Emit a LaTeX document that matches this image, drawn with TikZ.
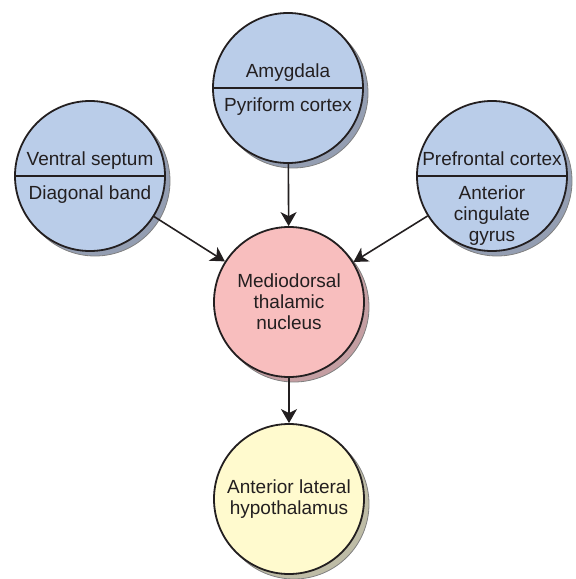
\documentclass[tikz,border=0pt]{standalone}
\usepackage{fontspec}
\setmainfont{Liberation Sans}
\usetikzlibrary{arrows.meta}
\definecolor{ink}{RGB}{35,31,32}
\definecolor{fillblue}{RGB}{186,205,233}
\definecolor{shadeblue}{RGB}{148,158,178}
\definecolor{fillpink}{RGB}{248,190,190}
\definecolor{shadepink}{RGB}{196,158,162}
\definecolor{fillyellow}{RGB}{255,250,206}
\definecolor{shadeyellow}{RGB}{190,188,166}
\begin{document}
\begin{tikzpicture}[x=1pt,y=-1pt,
        region/.style={circle, draw=ink, line width=1.8pt, minimum size=150pt, inner sep=0pt},
        areatext/.style={text=ink, font=\fontsize{19}{21}\selectfont, align=center, inner sep=0pt},
        proj/.style={draw=ink, line width=1.6pt, -{Stealth[length=14pt,width=16pt,inset=4pt]}}]
        \useasboundingbox (0,0) rectangle (576,579);
        % areas
            \foreach \n/\x/\y/\c in {amy/288/88/blue,vs/90/176/blue,pfc/492/176/blue,md/289/302/pink,lh/289/499/yellow}{
                \filldraw[fill=shade\c, draw=gray, line width=0.8pt] (\x+5,\y+5) circle (75);
                \node[region, fill=fill\c] (\n) at (\x,\y) {};
            }
        % split areas
            \foreach \n/\up/\dn in {amy/Amygdala/Pyriform cortex,vs/Ventral septum/Diagonal band,pfc/Prefrontal cortex/{Anterior\\cingulate\\gyrus}}{
                \draw[ink, line width=1.4pt] (\n.west) -- (\n.east);
                \node[areatext, anchor=base] (\n-up) at ([yshift=11pt]\n.center) {\up};
                \node[areatext, anchor=north] (\n-dn) at ([yshift=-10pt]\n.center) {\dn};
            }
            \node[areatext] (md-text) at (md) {Mediodorsal\\thalamic\\nucleus};
            \node[areatext] (lh-text) at (lh) {Anterior lateral\\hypothalamus};
        % projections
            \foreach \a in {amy,vs,pfc}{
                \draw[proj] (\a) -- (md);
            }
            \draw[proj] (md) -- (lh);
        \end{tikzpicture}
\end{document}
